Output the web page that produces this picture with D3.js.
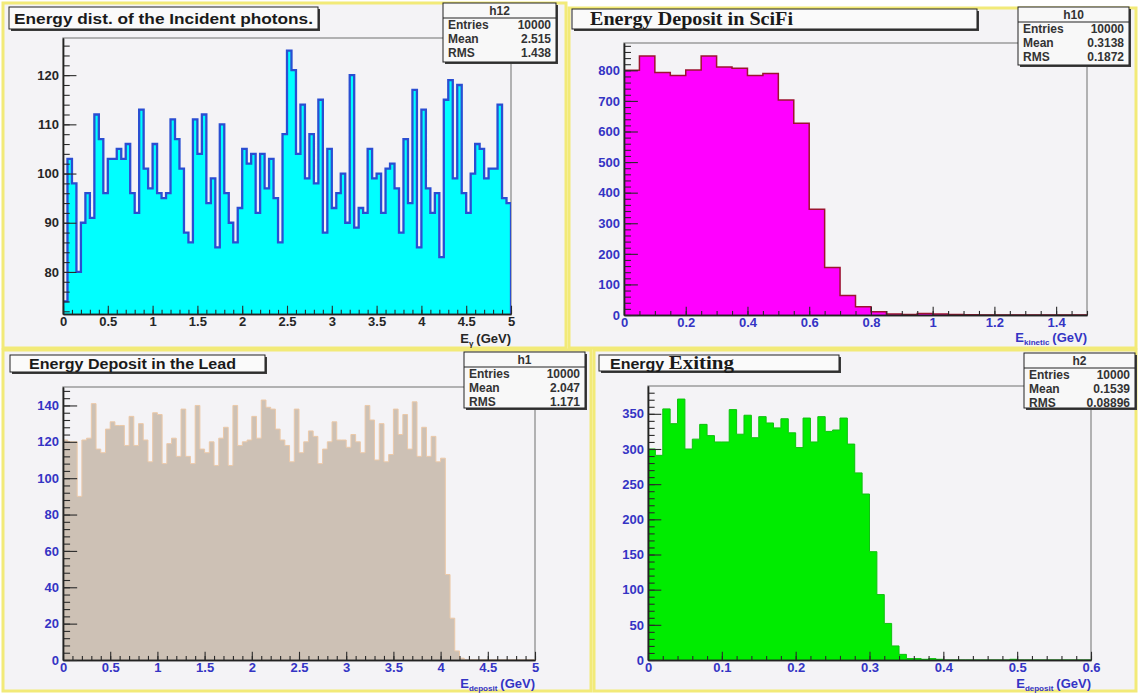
<!DOCTYPE html>
<html>
<head>
<meta charset="utf-8">
<script src="https://cdn.jsdelivr.net/npm/d3@7"></script>
<style>
  body { margin: 0; background: #fff; }
  svg { display: block; font-family: "Liberation Sans", Arial, sans-serif; }
</style>
</head>
<body>
<svg id="canvas" width="1138" height="694"></svg>
<script>
// bin contents (left to right)
var incidentRange = [0, 5],
    incidentBins = [74,103,98,80,90,96,91,112,107,96,
                    103,103,105,103,106,96,92,113,101,97,
                    106,96,95,96,111,107,101,88,86,111,
                    104,112,94,99,85,110,96,90,86,93,
                    105,102,104,92,104,97,103,95,86,108,
                    125,121,104,114,99,108,98,115,88,105,
                    93,96,100,90,120,89,93,92,105,99,
                    100,92,101,102,97,88,107,94,117,85,
                    113,97,92,96,83,115,119,99,118,96,
                    92,100,106,105,99,101,101,114,95,94],
    incidentXTicks = [0,0.5,1,1.5,2,2.5,3,3.5,4,4.5,5],
    incidentYTicks = [80,90,100,110,120];

var scifiRange = [0, 1.5],
    scifiBins = [800,847,793,783,801,847,811,807,783,790,
                 703,627,346,155,64,27,11,3,2,5,
                 3,2,1,0,0,0,0,0,0,0],
    scifiXTicks = [0,0.2,0.4,0.6,0.8,1,1.2,1.4],
    scifiYTicks = [0,100,200,300,400,500,600,700,800];

var leadRange = [0, 5],
    leadBins = [121,120,120,90,121,122,141,116,114,127,
                131,129,129,118,134,118,130,121,109,136,
                135,108,119,122,112,138,112,108,140,116,
                114,120,107,122,128,107,140,118,120,121,
                134,122,143,139,138,127,121,118,109,138,
                114,120,126,123,108,116,120,131,121,121,
                117,124,120,114,140,132,110,130,109,113,
                138,124,135,116,142,112,128,112,123,109,
                111,47,23,5,1,0,0,0,0,0,
                0,0,0,0,0,0,0,0,0,0],
    leadXTicks = [0,0.5,1,1.5,2,2.5,3,3.5,4,4.5,5],
    leadYTicks = [0,20,40,60,80,100,120,140];

var exitRange = [0, 0.6],
    exitBins = [300,291,357,336,371,300,314,335,319,310,
                310,356,321,348,316,346,337,330,343,323,
                302,344,310,346,325,327,344,307,266,236,
                154,93,52,20,8,2,2,1,2,1,
                0,0,0,0,0,0,0,0,0,1,
                0,0,0,0,0,0,0,0,0,0],
    exitXTicks = [0,0.1,0.2,0.3,0.4,0.5,0.6],
    exitYTicks = [0,50,100,150,200,250,300,350];

var histNames = ["h12", "h10", "h1", "h2"],
    statLabels = ["Entries", "Mean", "RMS"],
    incidentStats = ["10000", "2.515", "1.438"],
    scifiStats = ["10000", "0.3138", "0.1872"],
    leadStats = ["10000", "2.047", "1.171"],
    exitStats = ["10000", "0.1539", "0.08896"];

var SANS = '"Liberation Sans", Arial, sans-serif',
    SERIF = '"Liberation Serif", "Times New Roman", serif',
    padBg = "#f4f3f6",
    blue = "#3434c4";

var svg = d3.select("#canvas");

var panels = [
  {
    name: histNames[0], stats: incidentStats, bins: incidentBins, xRange: incidentRange,
    xTicks: incidentXTicks, yTicks: incidentYTicks, xMinor: 0.1, yMinor: 2,
    pad: [3, 3, 563, 345], frame: [63, 38, 511, 314],
    titleBox: [9, 7, 309, 22], titleX: 14, titleLen: 299,
    title: [{text: "Energy dist. of the Incident photons.", font: SANS, size: 15.5}],
    statsBox: [443, 3, 113, 59],
    fill: "#00ffff", line: "#2a4ed2", lineWidth: 2.3, labelColor: "#262626",
    sub: "\u03b3", axisTitleY: 343
  },
  {
    name: histNames[1], stats: scifiStats, bins: scifiBins, xRange: scifiRange,
    xTicks: scifiXTicks, yTicks: scifiYTicks, xMinor: 0.05, yMinor: 20,
    pad: [569, 8, 567, 340], frame: [624, 43, 1087, 315],
    titleBox: [572, 9, 405, 20], titleX: 590, titleLen: 203,
    title: [{text: "Energy Deposit in SciFi", font: SERIF, size: 18.5}],
    statsBox: [1018, 7, 111, 58],
    fill: "#ff00ff", line: "#9c1430", lineWidth: 1.5, labelColor: blue,
    sub: "kinetic", axisTitleY: 342
  },
  {
    name: histNames[2], stats: leadStats, bins: leadBins, xRange: leadRange,
    xTicks: leadXTicks, yTicks: leadYTicks, xMinor: 0.1, yMinor: 4,
    pad: [3, 350, 588, 341], frame: [63, 387, 535, 660],
    titleBox: [10, 355, 255, 17], titleX: 29, titleLen: 207,
    title: [{text: "Energy Deposit in the Lead", font: SANS, size: 14.5}],
    statsBox: [464, 352, 121, 56],
    fill: "#cdc1b5", line: "#ecc9a8", lineWidth: 1, labelColor: blue,
    sub: "deposit", axisTitleY: 688
  },
  {
    name: histNames[3], stats: exitStats, bins: exitBins, xRange: exitRange,
    xTicks: exitXTicks, yTicks: exitYTicks, xMinor: 0.02, yMinor: 10,
    pad: [594, 350, 542, 341], frame: [648, 386, 1091, 660],
    titleBox: [599, 355, 240, 16], titleX: 610, titleLen: 124,
    title: [{text: "Energy ", font: SANS, size: 14.5}, {text: "Exiting", font: SERIF, size: 19}],
    statsBox: [1024, 353, 111, 55],
    fill: "#00ec00", line: "#10c010", lineWidth: 1, labelColor: blue,
    sub: "deposit", axisTitleY: 688
  }
];

// ROOT style boxes: thin dark border plus a drop shadow on the right / bottom
function shadowBox(g, b, fill) {
  g.append("rect")
    .attr("x", b[0] + 2).attr("y", b[1] + 2)
    .attr("width", b[2]).attr("height", b[3])
    .attr("fill", "#3a3a3a");
  g.append("rect")
    .attr("x", b[0]).attr("y", b[1])
    .attr("width", b[2]).attr("height", b[3])
    .attr("fill", fill).attr("stroke", "#222").attr("stroke-width", 1);
}

function stepPath(bins, x0, binW, x, y, base, close) {
  var p = d3.path();
  p.moveTo(x(x0), y(base));
  bins.forEach(function(v, i) {
    p.lineTo(x(x0 + i * binW), y(v));
    p.lineTo(x(x0 + (i + 1) * binW), y(v));
  });
  p.lineTo(x(x0 + bins.length * binW), y(base));
  if (close) p.closePath();
  return p.toString();
}

function minorTicks(domain, step) {
  var start = Math.ceil(domain[0] / step - 1e-6);
  var out = [];
  for (var k = start; k * step <= domain[1] + 1e-9; k++) out.push(+(k * step).toFixed(6));
  return out;
}

function styleAxis(sel, color) {
  sel.attr("font-family", null).attr("font-size", null);
  sel.select(".domain").attr("stroke", "#222").attr("stroke-width", 1.4);
  sel.selectAll(".tick line").attr("stroke", "#2a2a2a").attr("stroke-width", 1.1);
  sel.selectAll(".tick text")
    .attr("fill", color)
    .style("font-family", SANS)
    .style("font-size", "13px")
    .style("font-weight", "bold");
}

function drawPanel(p, idx) {
  var g = svg.append("g").attr("class", "pad pad" + idx);
  var f = p.frame;

  g.append("rect")
    .attr("x", p.pad[0]).attr("y", p.pad[1])
    .attr("width", p.pad[2]).attr("height", p.pad[3])
    .attr("fill", padBg).attr("stroke", "#f2ea78").attr("stroke-width", 3);

  var binW = (p.xRange[1] - p.xRange[0]) / p.bins.length,
      lo = d3.min(p.bins),
      hi = d3.max(p.bins),
      // same automatic range ROOT picks for a TH1
      yDomain = lo > 0 ? [lo - 0.05 * (hi - lo), hi + 0.05 * (hi - lo)] : [0, hi * 1.05];

  var x = d3.scaleLinear().domain(p.xRange).range([f[0], f[2]]),
      y = d3.scaleLinear().domain(yDomain).range([f[3], f[1]]);

  g.append("clipPath").attr("id", "clip" + idx)
    .append("rect")
    .attr("x", f[0]).attr("y", f[1] - 1)
    .attr("width", f[2] - f[0]).attr("height", f[3] - f[1] + 1);

  // frame
  g.append("rect")
    .attr("x", f[0]).attr("y", f[1])
    .attr("width", f[2] - f[0]).attr("height", f[3] - f[1])
    .attr("fill", padBg).attr("stroke", "#8e8e8e").attr("stroke-width", 1.3);

  var hist = g.append("g").attr("clip-path", "url(#clip" + idx + ")");
  hist.append("path")
    .attr("d", stepPath(p.bins, p.xRange[0], binW, x, y, yDomain[0], true))
    .attr("fill", p.fill);
  hist.append("path")
    .attr("d", stepPath(p.bins, p.xRange[0], binW, x, y, yDomain[0], false))
    .attr("fill", "none")
    .attr("stroke", p.line)
    .attr("stroke-width", p.lineWidth)
    .attr("stroke-linejoin", "miter");

  var xLen = 0.03 * (f[3] - f[1]),
      yLen = 0.03 * (f[2] - f[0]);

  g.append("g")
    .attr("transform", "translate(0," + f[3] + ")")
    .call(d3.axisBottom(x).tickValues(minorTicks(p.xRange, p.xMinor)).tickSize(-xLen / 2).tickSizeOuter(0).tickFormat(""))
    .call(styleAxis, p.labelColor);
  g.append("g")
    .attr("transform", "translate(0," + f[3] + ")")
    .call(d3.axisBottom(x).tickValues(p.xTicks).tickSize(-xLen).tickSizeOuter(0).tickPadding(3).tickFormat(String))
    .call(styleAxis, p.labelColor);

  g.append("g")
    .attr("transform", "translate(" + f[0] + ",0)")
    .call(d3.axisLeft(y).tickValues(minorTicks(yDomain, p.yMinor)).tickSize(-yLen / 2).tickSizeOuter(0).tickFormat(""))
    .call(styleAxis, p.labelColor);
  g.append("g")
    .attr("transform", "translate(" + f[0] + ",0)")
    .call(d3.axisLeft(y).tickValues(p.yTicks).tickSize(-yLen).tickSizeOuter(0).tickPadding(4).tickFormat(String))
    .call(styleAxis, p.labelColor);

  // axis title  E_sub (GeV)
  var at = g.append("text")
    .attr("x", f[2]).attr("y", p.axisTitleY)
    .attr("text-anchor", "end")
    .attr("fill", p.labelColor)
    .style("font-family", SANS)
    .style("font-size", "13px")
    .style("font-weight", "bold");
  at.append("tspan").text("E");
  at.append("tspan").attr("dy", 3).style("font-size", "8px").text(p.sub);
  at.append("tspan").attr("dy", -3).attr("dx", 3).text("(GeV)");

  // title pave
  var tb = p.titleBox;
  shadowBox(g, tb, "#fafafa");
  var tt = g.append("text")
    .attr("x", p.titleX)
    .attr("y", tb[1] + tb[3] / 2)
    .attr("dy", "0.36em")
    .attr("fill", "#1a1a1a")
    .attr("textLength", p.titleLen)
    .attr("lengthAdjust", "spacingAndGlyphs")
    .style("font-weight", "bold");
  p.title.forEach(function(part) {
    tt.append("tspan")
      .style("font-family", part.font)
      .style("font-size", part.size + "px")
      .attr("xml:space", "preserve")
      .text(part.text);
  });

  // stats pave
  var sb = p.statsBox;
  shadowBox(g, sb, "#f8f8f8");
  g.append("line")
    .attr("x1", sb[0]).attr("x2", sb[0] + sb[2])
    .attr("y1", sb[1] + 15).attr("y2", sb[1] + 15)
    .attr("stroke", "#222").attr("stroke-width", 1);
  var st = g.append("g")
    .style("font-family", SANS)
    .style("font-size", "12px")
    .style("font-weight", "bold")
    .attr("fill", "#333");
  st.append("text")
    .attr("x", sb[0] + sb[2] / 2).attr("y", sb[1] + 8).attr("dy", "0.36em")
    .attr("text-anchor", "middle").text(p.name);
  statLabels.forEach(function(label, i) {
    var yy = sb[1] + 22 + i * 14;
    st.append("text").attr("x", sb[0] + 5).attr("y", yy).attr("dy", "0.36em").text(label);
    st.append("text").attr("x", sb[0] + sb[2] - 5).attr("y", yy).attr("dy", "0.36em")
      .attr("text-anchor", "end").text(p.stats[i]);
  });
}

panels.forEach(drawPanel);
</script>
</body>
</html>
